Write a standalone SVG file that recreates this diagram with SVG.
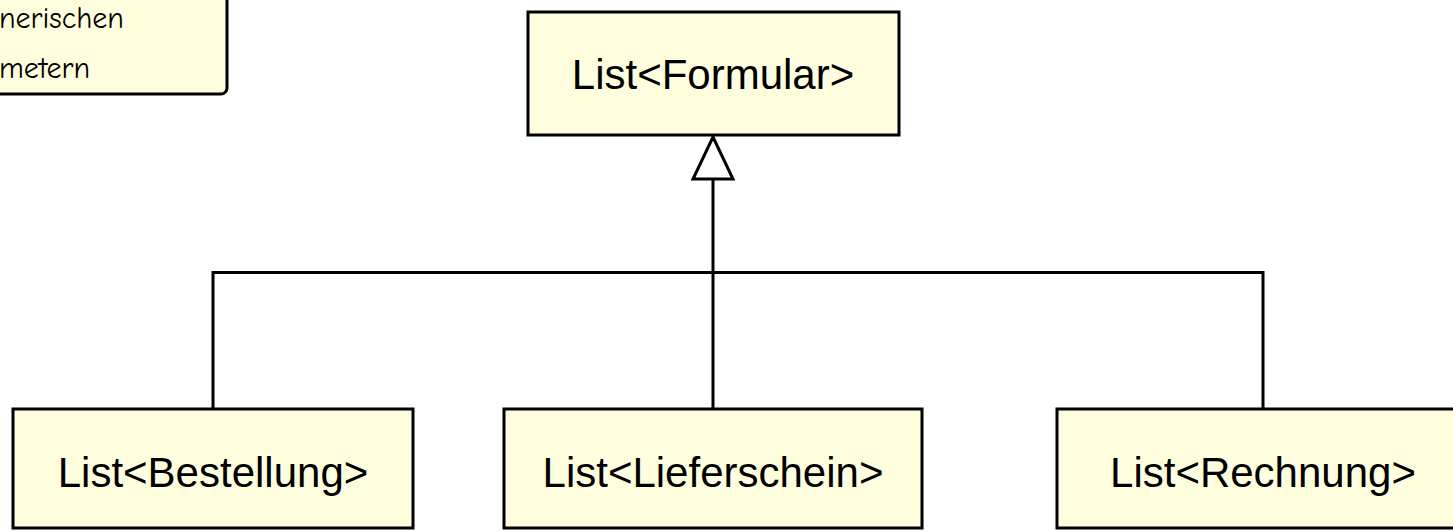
<svg xmlns="http://www.w3.org/2000/svg" width="1453" height="531" viewBox="0 0 1453 531">
<style>
.box{fill:#FEFEDE;stroke:#000;stroke-width:3}
.lbl{font-family:"Liberation Sans",Arial,sans-serif;font-size:42px;fill:#000;text-anchor:middle}
.note{font-family:"Comic Neue","Liberation Sans",sans-serif;font-size:30px;fill:#000}
.conn{fill:none;stroke:#000;stroke-width:3}
</style>
<rect width="1453" height="531" fill="#fff"/>
<g id="note">
<rect class="box" x="-20" y="-20" width="247" height="114" rx="6"/>
<text class="note" x="-1" y="28">nerischen</text>
<text class="note" x="-1" y="78">metern</text>
</g>
<g id="formular">
<rect class="box" x="528" y="12" width="371" height="123"/>
<text class="lbl" x="713" y="89">List&lt;Formular&gt;</text>
</g>
<g id="bestellung">
<rect class="box" x="13" y="409" width="400" height="119"/>
<text class="lbl" x="213" y="487">List&lt;Bestellung&gt;</text>
</g>
<g id="lieferschein">
<rect class="box" x="504" y="409" width="418" height="119"/>
<text class="lbl" x="713" y="487">List&lt;Lieferschein&gt;</text>
</g>
<g id="rechnung">
<rect class="box" x="1057" y="409" width="420" height="119"/>
<text class="lbl" x="1263" y="487">List&lt;Rechnung&gt;</text>
</g>
<g id="connectors">
<polyline class="conn" points="213,409 213,272.5 1263,272.5 1263,409"/>
<line class="conn" x1="713" y1="179" x2="713" y2="409"/>
<polygon points="713,137 693,179 733,179" fill="#fff" stroke="#000" stroke-width="3" stroke-linejoin="miter"/>
</g>
</svg>
